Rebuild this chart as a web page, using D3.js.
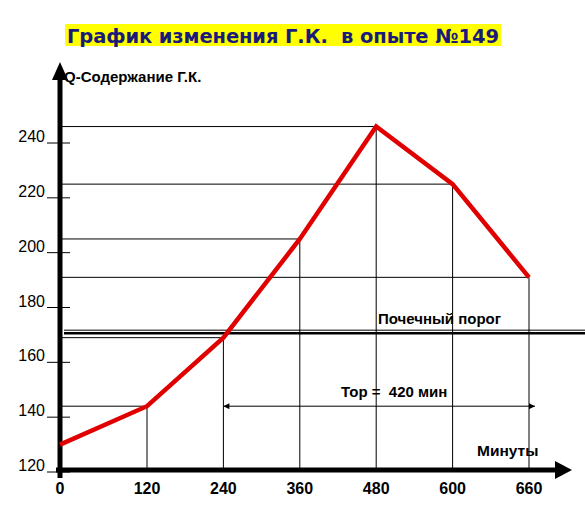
<!DOCTYPE html><html><head><meta charset="utf-8"><script src="https://cdn.jsdelivr.net/npm/d3@7"></script>
<style>body{margin:0;background:#fff}text{white-space:pre}</style></head><body><svg id="c" width="585" height="523"></svg>
<script>
const minutes=[0,120,240,360,480,600,660];
const values=[130,144,169,205,246,225,191];
const yTicks=[120,140,160,180,200,220,240];
const threshold=171;
const torStart=240, torEnd=660;
const title="График изменения Г.К.  в опыте №149";
const yTitle="Q-Содержание Г.К.";
const xTitle="Минуты";
const thrLabel="Почечный порог";
const torLabel="Тор =  420 мин";

const svg=d3.select("#c");
const x=d3.scaleLinear().domain(minutes).range(minutes.map((d,i)=>i===0?60:147+(i-1)*76.4));
const y=d3.scaleLinear().domain([120,240]).range([472,143]);
const F="Liberation Sans, Arial, sans-serif";
svg.append("rect").attr("x",65).attr("y",24).attr("width",436).attr("height",22).attr("fill","#ffff00");
svg.append("text").attr("x",283).attr("y",43).attr("text-anchor","middle").attr("font-family","DejaVu Sans").attr("font-weight","bold").attr("font-size",19.5).attr("textLength",432).attr("fill","#1a1a7a").text(title);
const defs=svg.append("defs");
defs.append("marker").attr("id","ah").attr("viewBox","0 0 10 10").attr("refX",10).attr("refY",5).attr("markerWidth",8).attr("markerHeight",6).attr("orient","auto-start-reverse").append("path").attr("d","M0,0L10,5L0,10Z").attr("fill","#000");
minutes.forEach((m,i)=>{ if(i>0){
 svg.append("line").attr("x1",x(m)).attr("x2",x(m)).attr("y1",y(values[i])).attr("y2",y(120)).attr("stroke","#000").attr("stroke-width",1);
 svg.append("line").attr("x1",x(0)).attr("x2",x(m)).attr("y1",y(values[i])).attr("y2",y(values[i])).attr("stroke","#000").attr("stroke-width",1);
}});
svg.append("line").attr("x1",64).attr("x2",585).attr("y1",y(threshold)-2).attr("y2",y(threshold)-2).attr("stroke","#000").attr("stroke-width",1);
svg.append("line").attr("x1",64).attr("x2",585).attr("y1",y(threshold)+1).attr("y2",y(threshold)+1).attr("stroke","#000").attr("stroke-width",2.5);
svg.append("text").attr("x",378).attr("y",324).attr("font-family",F).attr("font-weight","bold").attr("font-size",15).text(thrLabel);
const ty=y(values[1]);
svg.append("line").attr("x1",x(torStart)).attr("x2",x(torEnd)+6).attr("y1",ty).attr("y2",ty).attr("stroke","#000").attr("stroke-width",1).attr("marker-start","url(#ah)").attr("marker-end","url(#ah)");
svg.append("text").attr("x",341).attr("y",397).attr("font-family",F).attr("font-weight","bold").attr("font-size",15).text(torLabel);
yTicks.forEach(t=>{
 svg.append("line").attr("x1",47).attr("x2",70).attr("y1",y(t)).attr("y2",y(t)).attr("stroke","#000").attr("stroke-width",1);
 svg.append("text").attr("x",45).attr("y",y(t)-1).attr("text-anchor","end").attr("font-family",F).attr("font-size",16).text(t);
});
minutes.forEach(m=>svg.append("text").attr("x",x(m)).attr("y",494).attr("text-anchor","middle").attr("font-family",F).attr("font-weight","bold").attr("font-size",16).text(m));
svg.append("line").attr("x1",60).attr("x2",60).attr("y1",478).attr("y2",78).attr("stroke","#000").attr("stroke-width",5);
svg.append("path").attr("d","M52,80L60,62L68,80Z");
svg.append("line").attr("x1",56).attr("x2",558).attr("y1",470).attr("y2",470).attr("stroke","#000").attr("stroke-width",5);
svg.append("path").attr("d","M555,461L572,470L555,479Z");
svg.append("text").attr("x",64).attr("y",82).attr("font-family",F).attr("font-weight","bold").attr("font-size",15).text(yTitle);
svg.append("text").attr("x",477).attr("y",456).attr("font-family",F).attr("font-weight","bold").attr("font-size",15.5).text(xTitle);
svg.append("path").datum(minutes.map((m,i)=>[m,values[i]])).attr("d",d3.line().x(d=>x(d[0])).y(d=>y(d[1]))).attr("fill","none").attr("stroke","#e00000").attr("stroke-width",4.5).attr("stroke-linejoin","miter");
</script></body></html>
